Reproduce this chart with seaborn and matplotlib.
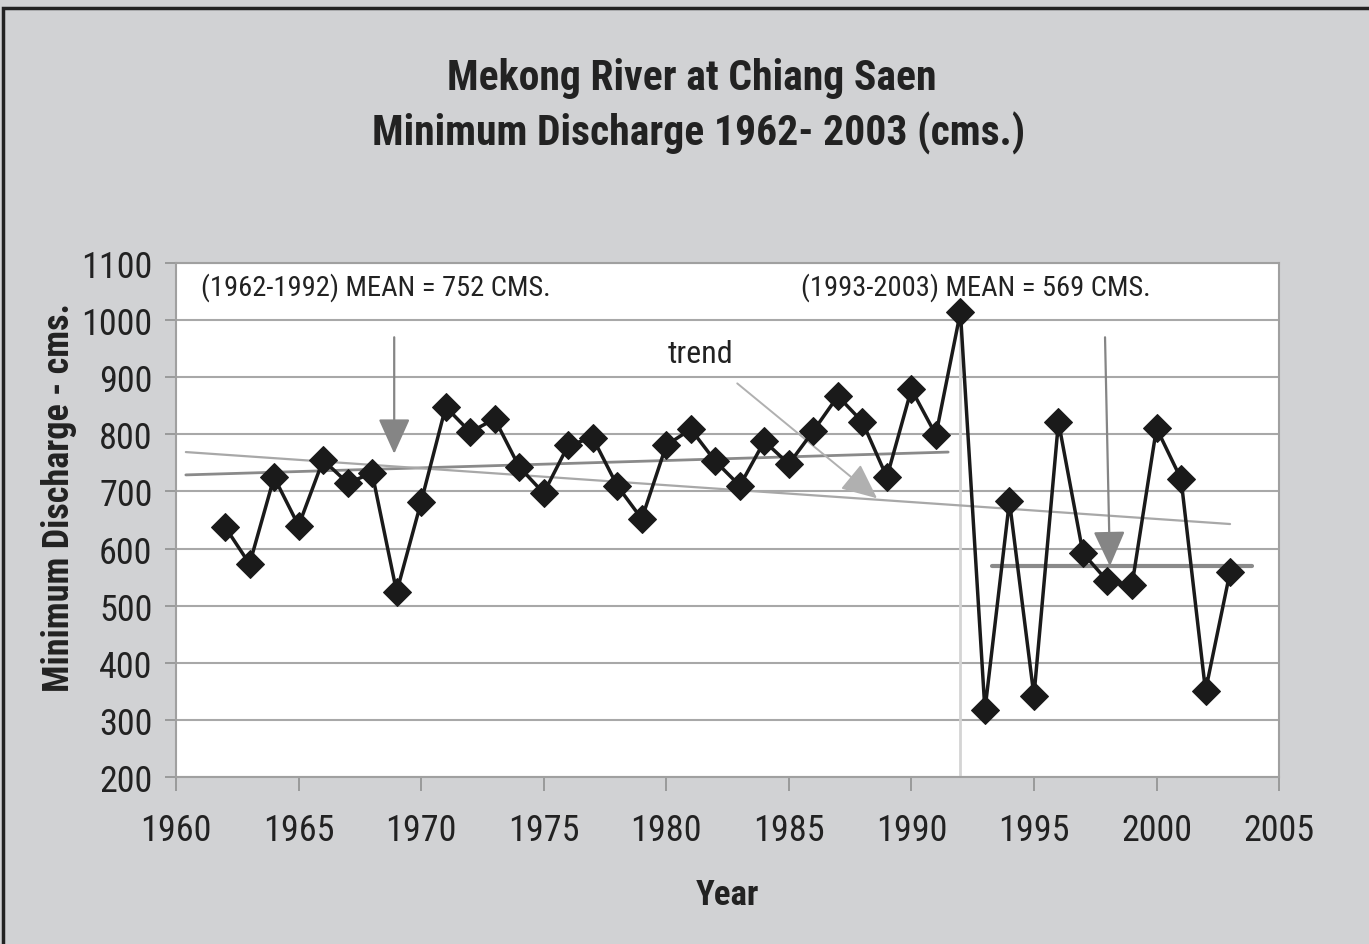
import matplotlib
matplotlib.use("Agg")
import matplotlib.pyplot as plt
import seaborn as sns
import pandas as pd
from matplotlib.patches import Rectangle

# =========================
# DATA
# =========================

years = list(range(1962, 2004))
discharge = [638, 573, 725, 640, 755, 715, 732, 524, 682, 848,
             804, 827, 743, 697, 781, 794, 710, 652, 781, 809,
             753, 710, 788, 748, 806, 867, 822, 725, 879, 799,
             1014, 317, 683, 342, 822, 592, 543, 536, 811, 722,
             351, 559]

trend_early_x = [1960.4, 1991.5]
trend_early_y = [729, 769]
trend_all_x = [1960.4, 2003.0]
trend_all_y = [769, 643]
mean_late_x = [1993.3, 2003.9]
mean_late_y = [569, 569]
split_year = 1992

label_early = "(1962-1992) MEAN = 752 CMS."
label_late = "(1993-2003) MEAN = 569 CMS."

x_ticks = list(range(1960, 2006, 5))
y_ticks = list(range(200, 1101, 100))

df = pd.DataFrame({"Year": years, "Discharge": discharge})

# =========================
# STYLE
# =========================

sns.set_style("white")
narrow = ["Roboto Condensed", "Archivo Narrow", "PT Sans Narrow",
          "Liberation Sans Narrow", "DejaVu Sans"]
plt.rcParams["font.family"] = narrow

bg = "#d1d2d4"
ink = "#222222"
fig = plt.figure(figsize=(13.69, 9.45), dpi=100, facecolor=bg)
ax = fig.add_axes([0.1286, 0.1767, 0.8057, 0.5439])
ax.set_facecolor("white")

# figure border
fig.patches.append(Rectangle((0.002, -0.02), 1.05, 1.011, transform=fig.transFigure,
                             fill=False, edgecolor=ink, linewidth=2.5))

# =========================
# PLOT
# =========================

ax.plot([split_year, split_year], [200, discharge[years.index(split_year)]],
        color="#d4d4d4", linewidth=2, zorder=2)

ax.plot(trend_early_x, trend_early_y, color="#8a8a8a", linewidth=2, zorder=3)
ax.plot(trend_all_x, trend_all_y, color="#a8a8a8", linewidth=1.6, zorder=3)
ax.plot(mean_late_x, mean_late_y, color="#8a8a8a", linewidth=3, zorder=3)

sns.lineplot(data=df, x="Year", y="Discharge", ax=ax, color="#1a1a1a",
             linewidth=2.5, marker="D", markersize=14, markeredgecolor="#1a1a1a",
             zorder=5)

# arrows
head = "-|>,head_length=1.0,head_width=0.45"
ax.annotate("", xy=(1968.9, 766), xytext=(1968.9, 970),
            arrowprops=dict(arrowstyle=head, mutation_scale=22,
                            color="#858585", lw=1.6, shrinkA=0, shrinkB=0))
ax.annotate("", xy=(1998.1, 569), xytext=(1997.9, 970),
            arrowprops=dict(arrowstyle=head, mutation_scale=22,
                            color="#858585", lw=1.6, shrinkA=0, shrinkB=0))
ax.annotate("trend", xy=(1988.6, 688), xytext=(1981.4, 942),
            ha="center", va="center", fontsize=23, color=ink,
            arrowprops=dict(arrowstyle=head, mutation_scale=22,
                            color="#b0b0b0", lw=1.4, shrinkA=14, shrinkB=0))

ax.text(1961.0, 1058, label_early, ha="left", va="center", fontsize=20.5, color=ink)
ax.text(1985.5, 1058, label_late, ha="left", va="center", fontsize=20.5, color=ink)

# =========================
# AXES
# =========================

ax.set_xlim(1960, 2005)
ax.set_ylim(200, 1100)
ax.set_xticks(x_ticks)
ax.set_yticks(y_ticks)
ax.yaxis.grid(True, color="#a8a8a8", linewidth=1.5)
ax.xaxis.grid(False)
ax.set_axisbelow(True)

for side in ["top", "right", "left", "bottom"]:
    ax.spines[side].set_color("#a0a0a0")
    ax.spines[side].set_linewidth(1.5)

ax.tick_params(axis="x", direction="out", length=10, width=1.2, color="#909090",
               pad=15, labelsize=26, labelcolor=ink)
ax.tick_params(axis="y", direction="out", length=8, width=1.2, color="#909090",
               pad=9, labelsize=26, labelcolor=ink)
ax.tick_params(bottom=True, left=True)

ax.set_xlabel("Year", fontsize=25, fontweight="bold", color=ink)
ax.set_ylabel("Minimum Discharge - cms.", fontsize=26, fontweight="bold", color=ink)
ax.xaxis.set_label_coords(0.5, -0.196)
ax.yaxis.set_label_coords(-0.09, 0.545)

fig.text(0.505, 0.917, "Mekong River at Chiang Saen", ha="center", va="center",
         fontsize=30, fontweight="bold", color=ink)
fig.text(0.51, 0.859, "Minimum Discharge 1962- 2003 (cms.)", ha="center", va="center",
         fontsize=30, fontweight="bold", color=ink)

plt.savefig("out.png", dpi=100, facecolor=bg)
